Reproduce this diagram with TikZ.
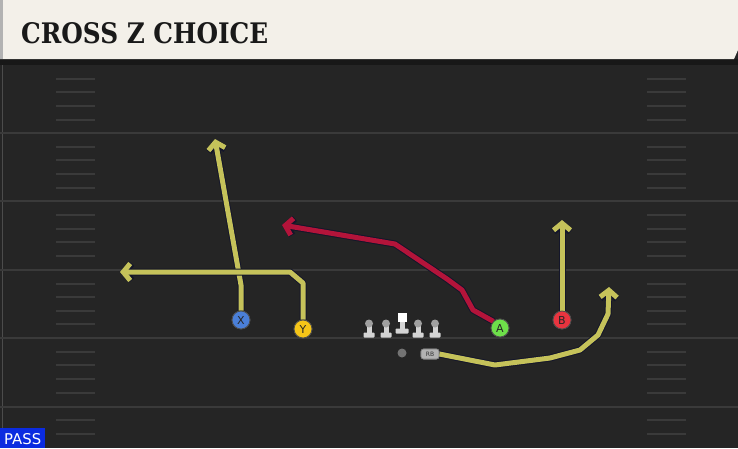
\documentclass[tikz,border=0pt]{standalone}
\usepackage{graphicx}
\usepackage{fontspec}
\setmainfont{DejaVu Sans}
\newfontfamily\titlefont{DejaVu Serif}
\usetikzlibrary{arrows.meta}
\definecolor{bg}{HTML}{252525}
\definecolor{hdr}{HTML}{F3F0E9}
\definecolor{fline}{HTML}{3A3A3A}
\definecolor{ryel}{HTML}{C5C25A}
\definecolor{rred}{HTML}{B3143A}
\definecolor{outl}{HTML}{14162A}
\definecolor{pblue}{HTML}{4A7FD8}
\definecolor{pyel}{HTML}{F5C518}
\definecolor{pgreen}{HTML}{6EE04A}
\definecolor{pred}{HTML}{E8343F}
\definecolor{passblue}{HTML}{0B2BE0}
\definecolor{olgray}{HTML}{D4D4D4}
\definecolor{olhead}{HTML}{A0A0A0}
\newcommand\myroute[2]{%
  \draw[routeout] #2;
  \draw[routein, draw=#1] #2;}
\begin{document}
\begin{tikzpicture}[x=1pt,y=-1pt,
  routeout/.style={line width=7pt, draw=outl, line join=round,
    -{Straight Barb[length=7pt,width=17pt,line width=7pt]}},
  routein/.style={line width=5pt, line join=round,
    -{Straight Barb[length=7pt,width=17pt,line width=5pt]}},
  player/.style={circle, minimum size=18pt, inner sep=0pt, draw=black!70, line width=0.8pt,
    font=\fontsize{11}{11}\selectfont, text=black!85},
  rbstyle/.style={rounded corners=2.5pt, fill=black!30, draw=black!50, line width=0.6pt, minimum width=18pt, minimum height=10pt,
    inner sep=0pt, font=\fontsize{6}{6}\selectfont, text=black!80},
  fieldline/.style={draw=fline, line width=2pt},
  hash/.style={draw=fline, line width=1.6pt},
]
\useasboundingbox (0,0) rectangle (738,448);
% background
\fill[bg] (0,0) rectangle (738,448);
\fill[black!35!bg] (0,59) rectangle (738,65);
\draw[black!15!bg!80!white, line width=0.8pt] (2.5,65) -- (2.5,448);
% field lines
\foreach \yy in {133,201,270,338,407}
  \draw[fieldline] (0,\yy) -- (738,\yy);
% hash marks
\foreach \yy in {79,92,106,120,147,160,174,188,215,229,242,256,284,297,311,324,352,365,379,393,420,434}{
  \draw[hash] (56,\yy) -- (95,\yy);
  \draw[hash] (647,\yy) -- (686,\yy);
}
% header
\fill[hdr] (0,0) -- (738,0) -- (738,50) -- (734,59) -- (0,59) -- cycle;
\fill[black!30] (0,0) rectangle (3,59);
\node[anchor=base west, inner sep=0pt, text=black!90] (title) at (21,43)
  {\resizebox{247pt}{21pt}{\titlefont\bfseries CROSS Z CHOICE}};
% PASS box
\fill[passblue] (0,428) rectangle (45,448);
\node[anchor=base west, inner sep=0pt, text=white] (pass) at (4,444)
  {\resizebox{37pt}{11pt}{PASS}};
% players
\node[player, fill=pblue] (X) at (241,320) {X};
\node[player, fill=pyel] (Y) at (303,329) {Y};
\node[player, fill=pgreen] (A) at (500,328) {A};
\node[player, fill=pred] (B) at (562,320) {B};
% route end coordinates
\coordinate (xb) at (241,285);
\coordinate (xe) at (215,139);
\coordinate (yb) at (303,283);
\coordinate (yc) at (290,272);
\coordinate (ye) at (120,272);
\coordinate (a1) at (473,310);
\coordinate (a2) at (462,290);
\coordinate (a3) at (447,279);
\coordinate (a4) at (395,244);
\coordinate (ae) at (282,225);
\coordinate (be) at (562,220);
\coordinate (r1) at (495,365);
\coordinate (r2) at (550,358);
\coordinate (r3) at (580,350);
\coordinate (r4) at (598,335);
\coordinate (r5) at (608,314);
\coordinate (re) at (609,287);
% linemen
\foreach \xx in {369,386,418,435}{
  \fill[olgray, rounded corners=0.8pt] (\xx-5.5,332.5) rectangle (\xx+5.5,337.5);
  \fill[olgray] (\xx-2.5,324) rectangle (\xx+2.5,333);
  \fill[olhead] (\xx,323.5) circle (4);
}
\fill[olgray, rounded corners=0.8pt] (395.5,328.5) rectangle (408.5,333.5);
\fill[olgray] (399.5,320) rectangle (404.5,329);
\fill[white] (397.5,313) rectangle (406.5,321.5);
% QB
\node[circle, fill=black!55, minimum size=9pt, inner sep=0pt] (QB) at (402,353) {};
% RB
\node[rbstyle] (RB) at (430,354) {};
% routes
\myroute{ryel}{(X.north) -- (xb) -- (xe)}
\myroute{ryel}{(Y.north) -- (yb) -- (yc) -- (ye)}
\myroute{rred}{(A.north west) -- (a1) -- (a2) -- (a3) -- (a4) -- (ae)}
\myroute{ryel}{(B.north) -- (be)}
\myroute{ryel}{(RB.east) -- (r1) -- (r2) -- (r3) -- (r4) -- (r5) -- (re)}
% players drawn again on top of route starts (shapes only)
\fill[pblue, draw=black!70, line width=0.8pt] (X) circle (9pt);
\fill[pyel, draw=black!70, line width=0.8pt] (Y) circle (9pt);
\fill[pgreen, draw=black!70, line width=0.8pt] (A) circle (9pt);
\fill[pred, draw=black!70, line width=0.8pt] (B) circle (9pt);
\filldraw[rbstyle] ([shift={(-9pt,5pt)}]RB.center) rectangle ([shift={(9pt,-5pt)}]RB.center);
\node[inner sep=0pt, font=\fontsize{11}{11}\selectfont, text=black!85] at (X) {X};
\node[inner sep=0pt, font=\fontsize{11}{11}\selectfont, text=black!85] at (Y) {Y};
\node[inner sep=0pt, font=\fontsize{11}{11}\selectfont, text=black!85] at (A) {A};
\node[inner sep=0pt, font=\fontsize{11}{11}\selectfont, text=black!85] at (B) {B};
\node[inner sep=0pt, font=\fontsize{6}{6}\selectfont, text=black!80] at (RB) {RB};
\end{tikzpicture}
\end{document}
